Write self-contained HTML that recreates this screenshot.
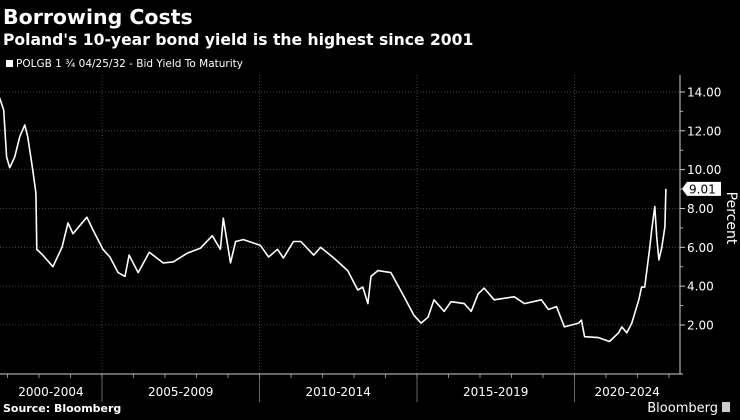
<!DOCTYPE html>
<html><head><meta charset="utf-8"><style>
body{margin:0;background:#000;width:740px;height:416px;overflow:hidden;font-family:"DejaVu Sans","Liberation Sans",sans-serif;color:#fff}
</style></head><body>
<svg width="740" height="416" xmlns="http://www.w3.org/2000/svg" font-family="DejaVu Sans, Liberation Sans, sans-serif">
<text x="3" y="24" font-size="20.5" font-weight="bold" fill="#fff">Borrowing Costs</text>
<text x="3" y="45" font-size="15.6" font-weight="bold" fill="#fff">Poland's 10-year bond yield is the highest since 2001</text>
<rect x="6" y="60" width="7" height="7" fill="#fff"/>
<text x="16" y="67" font-size="10.5" fill="#fff">POLGB 1 ¾ 04/25/32 - Bid Yield To Maturity</text>
<g id="grid"></g>
<g id="axes"></g>
<path id="line" fill="none" stroke="#fff" stroke-width="1.6" stroke-linejoin="round"/>
<text x="3" y="412" font-size="11" font-weight="bold" fill="#fff">Source: Bloomberg</text>
<text x="718" y="412" font-size="13" fill="#fff" text-anchor="end">Bloomberg</text>
<rect x="722" y="402" width="8" height="10" fill="#ccc"/>
</svg>
<script>
const years=[2001.75,2001.88,2001.97,2002.07,2002.23,2002.39,2002.55,2002.64,2002.80,2002.90,2002.93,2003.12,2003.44,2003.73,2003.92,2004.08,2004.52,2004.71,2005.03,2005.25,2005.51,2005.73,2005.86,2006.15,2006.50,2006.94,2007.26,2007.71,2008.12,2008.50,2008.76,2008.85,2009.08,2009.24,2009.49,2010.03,2010.29,2010.57,2010.76,2011.08,2011.31,2011.72,2011.94,2012.36,2012.80,2013.12,2013.28,2013.44,2013.54,2013.76,2014.17,2014.59,2014.90,2015.13,2015.35,2015.54,2015.86,2016.08,2016.50,2016.72,2016.94,2017.13,2017.45,2018.09,2018.41,2018.95,2019.17,2019.43,2019.68,2020.13,2020.22,2020.32,2020.76,2021.11,2021.40,2021.50,2021.66,2021.82,2022.04,2022.13,2022.23,2022.39,2022.45,2022.55,2022.61,2022.68,2022.77,2022.87,2022.90];
const yields=[13.7,13.07,10.65,10.1,10.65,11.7,12.3,11.7,10.0,8.8,5.9,5.6,5.0,6.0,7.25,6.7,7.55,6.9,5.9,5.5,4.7,4.5,5.6,4.7,5.75,5.2,5.25,5.7,5.95,6.6,5.9,7.5,5.2,6.3,6.4,6.1,5.5,5.9,5.45,6.3,6.3,5.6,6.0,5.45,4.8,3.8,3.95,3.1,4.5,4.8,4.7,3.45,2.5,2.1,2.4,3.3,2.7,3.2,3.1,2.7,3.6,3.9,3.3,3.45,3.1,3.3,2.8,2.95,1.9,2.1,2.25,1.4,1.35,1.15,1.6,1.9,1.6,2.1,3.3,3.95,3.95,6.0,6.9,8.1,6.55,5.35,6.0,7.05,9.01];
const yTicks=[2,4,6,8,10,12,14];
const periodLabels=["2000-2004","2005-2009","2010-2014","2015-2019","2020-2024"];
const periodStarts=[2000,2005,2010,2015,2020];
const NS="http://www.w3.org/2000/svg";
const X=t=>102+(t-2005)*31.5;
const Y=v=>325-(v-2)*19.42;
const AX=680, PT=75, PB=374;
function mk(tag,attrs,parent,txt){const e=document.createElementNS(NS,tag);for(const k in attrs)e.setAttribute(k,attrs[k]);if(txt!==undefined)e.textContent=txt;parent.appendChild(e);return e;}
const grid=document.getElementById('grid'), axes=document.getElementById('axes');
yTicks.forEach(v=>{
  const g=mk('line',{x1:0,x2:AX,y1:Y(v),y2:Y(v),stroke:'#555','stroke-dasharray':'1,2','stroke-width':0.8},grid);
  
  
  const tk=mk('line',{x1:AX,x2:AX+5,y1:Y(v),y2:Y(v),stroke:'#ccc'},axes);
  
  
  const t=mk('text',{x:AX+7,y:Y(v)+4.5,'font-size':12,fill:'#fff'},axes,v.toFixed(2));
  
  
});
for(let v=3;v<14;v+=2){const m=mk('line',{x1:AX,x2:AX+3,y1:Y(v),y2:Y(v),stroke:'#aaa'},axes);
  
  }
periodStarts.forEach((s,i)=>{
  const x0=Math.max(0,X(s)), x1=Math.min(AX,X(s+5));
  if(i>0){const g=mk('line',{x1:X(s),x2:X(s),y1:PT,y2:PB,stroke:'#555','stroke-dasharray':'1,2','stroke-width':0.8},grid);
    
    
    const sp=mk('line',{x1:X(s),x2:X(s),y1:PB,y2:402,stroke:'#666'},axes);
    
    }
  const t=mk('text',{x:(x0+x1)/2,y:396,'font-size':12,fill:'#fff','text-anchor':'middle'},axes,periodLabels[i]);
  
  
});
for(let yr=2002;yr<=2024;yr++){if(X(yr)>AX)break;const m=mk('line',{x1:X(yr),x2:X(yr),y1:PB,y2:PB+4,stroke:'#888'},axes);
  
  }
const xa=mk('line',{x1:0,x2:AX+3,y1:PB,y2:PB,stroke:'#ccc'},axes);


const ya=mk('line',{x1:AX,x2:AX,y1:PT,y2:PB,stroke:'#ccc'},axes);


const yt=mk('text',{x:0,y:0,'font-size':14,fill:'#fff',transform:`translate(727,218) rotate(90)`,'text-anchor':'middle'},axes,'Percent');


let d='';years.forEach((t,i)=>{d+=(i?'L':'M')+X(t).toFixed(1)+','+Y(yields[i]).toFixed(1);});
document.getElementById('line').setAttribute('d',d);
const last=yields[yields.length-1], ly=Y(last);
const badge=mk('path',{d:`M${AX+2},${ly} L${AX+7},${ly-7} H${AX+41} V${ly+7} H${AX+7} Z`,fill:'#fff'},axes);


const bt=mk('text',{x:AX+9,y:ly+4.5,'font-size':12,fill:'#000'},axes,last.toFixed(2));


</script>
</body></html>
